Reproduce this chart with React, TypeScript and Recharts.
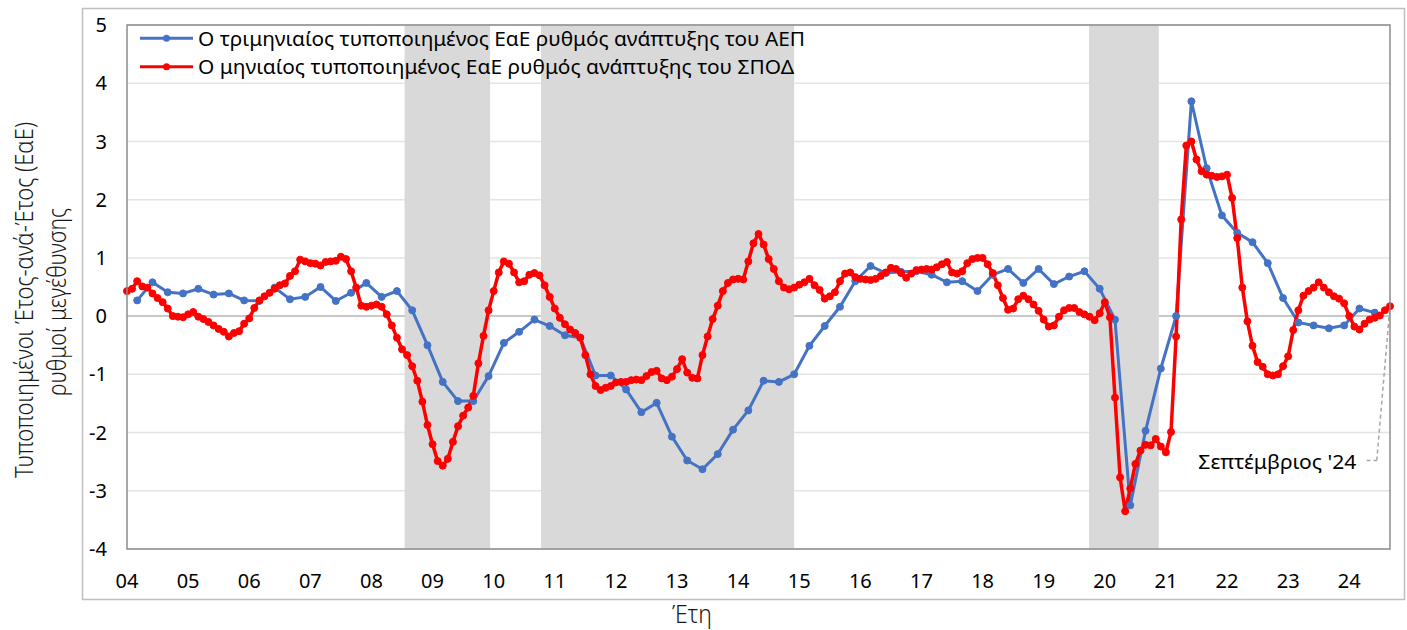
import { LineChart, Line, XAxis, YAxis, CartesianGrid, ReferenceArea, ReferenceLine, ReferenceDot } from 'recharts';

const FONT = '"Noto Sans", "DejaVu Sans", sans-serif';

// x axis: month index from Jan 2004 (0) to Sep 2024 (248)
const yearLabels = ['04', '05', '06', '07', '08', '09', '10', '11', '12', '13', '14', '15', '16', '17', '18', '19', '20', '21', '22', '23', '24'];
const yearTicks = yearLabels.map((_, i) => i * 12);
const yTicks = [-4, -3, -2, -1, 0, 1, 2, 3, 4, 5];

// monthly standardised y/y growth of the composite indicator (red)
const spodMonthly = [
  0.43, 0.47, 0.6, 0.51, 0.49, 0.39, 0.31, 0.24, 0.13, 0.0, -0.01, -0.02,
  0.03, 0.07, -0.01, -0.05, -0.1, -0.16, -0.22, -0.27, -0.35, -0.29, -0.26, -0.13,
  -0.04, 0.14, 0.27, 0.34, 0.4, 0.47, 0.53, 0.56, 0.69, 0.77, 0.97, 0.94,
  0.91, 0.9, 0.87, 0.93, 0.94, 0.95, 1.02, 0.98, 0.77, 0.49, 0.18, 0.16,
  0.18, 0.2, 0.16, 0.03, -0.16, -0.37, -0.57, -0.67, -0.86, -1.11, -1.47, -1.87,
  -2.2, -2.49, -2.57, -2.45, -2.16, -1.89, -1.71, -1.57, -1.37, -0.81, -0.34, 0.1,
  0.43, 0.75, 0.94, 0.9, 0.75, 0.58, 0.6, 0.71, 0.74, 0.7, 0.53, 0.33,
  0.13, -0.03, -0.14, -0.23, -0.29, -0.37, -0.67, -1.0, -1.2, -1.27, -1.23, -1.2,
  -1.14, -1.13, -1.13, -1.1, -1.09, -1.1, -1.03, -0.96, -0.94, -1.07, -1.1, -1.04,
  -0.91, -0.74, -0.97, -1.06, -1.07, -0.67, -0.35, -0.05, 0.18, 0.43, 0.57, 0.63,
  0.64, 0.63, 0.94, 1.25, 1.41, 1.23, 0.98, 0.81, 0.6, 0.49, 0.46, 0.49,
  0.54, 0.58, 0.64, 0.53, 0.45, 0.3, 0.34, 0.41, 0.6, 0.73, 0.75, 0.67,
  0.64, 0.63, 0.62, 0.64, 0.69, 0.75, 0.83, 0.81, 0.74, 0.66, 0.73, 0.79,
  0.8, 0.81, 0.8, 0.84, 0.89, 0.93, 0.75, 0.73, 0.77, 0.91, 0.98, 1.0,
  1.0, 0.89, 0.74, 0.53, 0.31, 0.11, 0.13, 0.29, 0.35, 0.29, 0.2, 0.09,
  -0.06, -0.18, -0.16, -0.01, 0.1, 0.14, 0.14, 0.07, 0.03, -0.01, -0.07, 0.05,
  0.24, -0.02, -1.4, -2.77, -3.35, -2.96, -2.54, -2.31, -2.21, -2.22, -2.11, -2.24,
  -2.34, -1.99, -0.35, 1.66, 2.93, 3.0, 2.69, 2.49, 2.43, 2.41, 2.39, 2.4,
  2.43, 2.03, 1.34, 0.49, -0.09, -0.51, -0.79, -0.87, -1.0, -1.02, -1.0, -0.86,
  -0.69, -0.24, 0.1, 0.35, 0.43, 0.49, 0.58, 0.49, 0.41, 0.34, 0.3, 0.22,
  0.0, -0.18, -0.23, -0.13, -0.06, -0.03, 0.01, 0.1, 0.17,
];

// quarterly standardised y/y GDP growth (blue), Q1 2004 .. Q2 2024
const gdpQuarterly = [
  0.27, 0.58, 0.41, 0.39, 0.47, 0.37, 0.39, 0.27, 0.26, 0.49, 0.29, 0.33,
  0.5, 0.26, 0.4, 0.57, 0.33, 0.43, 0.1, -0.5, -1.13, -1.46, -1.46, -1.03,
  -0.46, -0.27, -0.06, -0.17, -0.33, -0.37, -1.02, -1.02, -1.26, -1.65, -1.49, -2.07,
  -2.48, -2.63, -2.37, -1.95, -1.62, -1.11, -1.13, -1.0, -0.51, -0.17, 0.16, 0.6,
  0.86, 0.74, 0.76, 0.77, 0.71, 0.58, 0.6, 0.43, 0.71, 0.81, 0.57, 0.81,
  0.55, 0.68, 0.77, 0.47, -0.06, -3.25, -1.97, -0.9, 0.0, 3.69, 2.54, 1.73,
  1.43, 1.27, 0.91, 0.31, -0.11, -0.16, -0.21, -0.16, 0.13, 0.06,
];

// shaded periods, in month index
const shadedPeriods = [
  [54.5, 71.3],
  [81.3, 131.0],
  [188.9, 202.6],
];

const legendItems = [
  { name: 'Ο τριμηνιαίος τυποποιημένος ΕαΕ ρυθμός ανάπτυξης του ΑΕΠ', color: '#4472C4', len: 607 },
  { name: 'Ο μηνιαίος τυποποιημένος ΕαΕ ρυθμός ανάπτυξης του ΣΠΟΔ', color: '#FF0000', len: 596 },
];

const data = spodMonthly.map((v, m) => ({
  m,
  spod: v,
  gdp: m >= 2 && (m - 2) % 3 === 0 ? gdpQuarterly[(m - 2) / 3] ?? null : null,
}));

const AnnotationText = (p: any) => (
  <text
    x={p.cx}
    y={p.cy}
    dy="0.35em"
    textAnchor="end"
    fontSize={20}
    fontFamily={FONT}
    fill="#000"
    textLength={158}
    lengthAdjust="spacingAndGlyphs"
  >
    Σεπτέμβριος '24
  </text>
);

export default function App() {
  return (
    <div style={{ position: 'absolute', left: 0, top: 0, width: 1407, height: 630, background: '#fff' }}>
      <LineChart width={1407} height={630} data={data} margin={{ top: 25, right: 17, bottom: 41, left: 82 }}>
        <CartesianGrid vertical={false} stroke="#e4e4e4" strokeWidth={1.5} />
        <CartesianGrid vertical={false} horizontalValues={[0]} stroke="#c8c8c8" strokeWidth={2} />
        <XAxis
          type="number"
          dataKey="m"
          domain={[0, 248]}
          ticks={yearTicks}
          tickFormatter={(v: number) => yearLabels[Math.round(v / 12)]}
          axisLine={false}
          tickLine={false}
          tickSize={0}
          tickMargin={25}
          height={40}
          interval={0}
          tick={{ fontSize: 20, fill: '#000', fontFamily: FONT }}
        />
        <YAxis
          type="number"
          domain={[-4, 5]}
          ticks={yTicks}
          axisLine={false}
          tickLine={false}
          tickSize={0}
          tickMargin={20}
          width={45}
          interval={0}
          tick={{ fontSize: 20, fill: '#000', fontFamily: FONT }}
        />
        {shadedPeriods.map(([a, b]) => (
          <ReferenceArea key={a} x1={a} x2={b} y1={-4} y2={5} fill="#D9D9D9" fillOpacity={1} stroke="none" />
        ))}
        <ReferenceLine
          segment={[{ x: 243.4, y: -2.48 }, { x: 245.4, y: -2.48 }]}
          stroke="#a6a6a6"
          strokeWidth={1.5}
          strokeDasharray="4 3"
        />
        <ReferenceLine
          segment={[{ x: 245.4, y: -2.48 }, { x: 248, y: 0.17 }]}
          stroke="#a6a6a6"
          strokeWidth={1.5}
          strokeDasharray="4 3"
        />
        <Line
          type="linear"
          dataKey="gdp"
          stroke="#4472C4"
          strokeWidth={3}
          dot={{ r: 3.5, fill: '#4472C4', stroke: '#4472C4', strokeWidth: 1 }}
          connectNulls
          isAnimationActive={false}
        />
        <Line
          type="linear"
          dataKey="spod"
          stroke="#FF0000"
          strokeWidth={3.5}
          dot={{ r: 3.5, fill: '#FF0000', stroke: '#FF0000', strokeWidth: 1 }}
          isAnimationActive={false}
        />
        <ReferenceDot x={241.4} y={-2.5} r={0} shape={AnnotationText} />
      </LineChart>

      <svg width={1407} height={630} style={{ position: 'absolute', left: 0, top: 0, pointerEvents: 'none' }}>
        {/* outer frame and plot border */}
        <rect x={82.5} y={8.5} width={1322} height={591} fill="none" stroke="#bfbfbf" strokeWidth={1.5} />
        <rect x={127} y={25} width={1263} height={524} fill="none" stroke="#8c8c8c" strokeWidth={1.5} />

        {/* legend */}
        {legendItems.map((it, i) => {
          const y = 38.3 + i * 28.4;
          return (
            <g key={it.name}>
              <line x1={140} x2={193} y1={y} y2={y} stroke={it.color} strokeWidth={3} />
              <circle cx={166.5} cy={y} r={3.5} fill={it.color} />
              <text
                x={198}
                y={y + 7.5}
                fontSize={20}
                fontFamily={FONT}
                fill="#000"
                textLength={it.len}
                lengthAdjust="spacingAndGlyphs"
              >
                {it.name}
              </text>
            </g>
          );
        })}

        {/* axis titles */}
        <text
          transform="translate(33,300) rotate(-90)"
          textAnchor="middle"
          fontSize={26}
          fontWeight={300}
          fontFamily={FONT}
          fill="#1a1a1a"
          textLength={356}
          lengthAdjust="spacingAndGlyphs"
        >
          Τυποποιημένοι Έτος-ανά-Έτος (ΕαΕ)
        </text>
        <text
          transform="translate(66,302) rotate(-90)"
          textAnchor="middle"
          fontSize={26}
          fontWeight={300}
          fontFamily={FONT}
          fill="#1a1a1a"
          textLength={188}
          lengthAdjust="spacingAndGlyphs"
        >
          ρυθμοί μεγέθυνσης
        </text>
        <text
          x={692}
          y={623}
          textAnchor="middle"
          fontSize={26}
          fontWeight={300}
          fontFamily={FONT}
          fill="#1a1a1a"
          textLength={40}
          lengthAdjust="spacingAndGlyphs"
        >
          Έτη
        </text>
      </svg>
    </div>
  );
}
